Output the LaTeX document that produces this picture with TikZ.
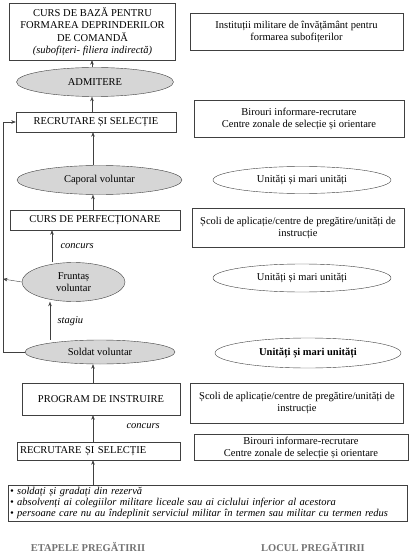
\documentclass[tikz,border=0pt]{standalone}
\usepackage{fontspec}
\setmainfont{Liberation Serif}
\usetikzlibrary{arrows.meta, shapes.geometric, positioning}

\tikzset{
  stage/.style={draw=black!75, fill=white, align=center, inner sep=1pt, font=\fontsize{10.5}{12}\selectfont},
  grade/.style={ellipse, draw=black!75, fill=black!16, align=center, inner sep=0pt, font=\fontsize{10.5}{12}\selectfont},
  place/.style={ellipse, draw=black!75, fill=white, align=center, inner sep=0pt, font=\fontsize{10.5}{12}\selectfont},
  link/.style={draw=black!75, -{Stealth[length=4.5pt,width=3.5pt]}},
  note/.style={font=\fontsize{10.5}{12}\selectfont\itshape},
  heading/.style={font=\fontsize{10.5}{12}\selectfont\bfseries, text=black!55}
}

\begin{document}
\begin{tikzpicture}[x=1pt, y=-1pt, >=stealth]
    \useasboundingbox (0,0) rectangle (412,556);

    % Etapele pregatirii
    \node[stage, minimum width=166pt, minimum height=57pt, font=\fontsize{10.5}{12.5}\selectfont] (base) at (92.5,31.5)
        {CURS DE BAZĂ PENTRU\\FORMAREA DEPRINDERILOR\\DE COMANDĂ\\\textit{(subofițeri- filiera indirectă)}};
    \node[grade, minimum width=157pt, minimum height=29pt] (admitere) at (95,82) {ADMITERE};
    \node[stage, minimum width=160pt, minimum height=20pt] (rec1) at (96,122) {RECRUTARE ȘI SELECȚIE};
    \node[grade, minimum width=165pt, minimum height=29pt] (caporal) at (99.5,180) {Caporal voluntar};
    \node[stage, minimum width=170pt, minimum height=20pt] (perf) at (95,220) {CURS DE PERFECȚIONARE};
    \node[grade, minimum width=103pt, minimum height=39pt] (fruntas) at (73.5,282) {Fruntaș\\voluntar};
    \node[grade, minimum width=150pt, minimum height=24pt] (soldat) at (100,352) {Soldat voluntar};
    \node[stage, minimum width=158pt, minimum height=32pt] (program) at (101,399) {PROGRAM DE INSTRUIRE};
    \node[stage, text width=157pt, inner sep=3pt, minimum height=18pt, align=left] (rec2) at (98.5,451) {RECRUTARE ȘI SELECȚIE};
    \node[stage, text width=395pt, minimum height=34pt, align=left, inner sep=2pt,
          font=\fontsize{10.5}{11.3}\selectfont\itshape] (surse) at (207.5,503)
        {\textbullet\ soldați și gradați din rezervă\\
         \textbullet\ absolvenți ai colegiilor militare liceale sau ai ciclului inferior al acestora\\
         \textbullet\ persoane care nu au îndeplinit serviciul militar în termen sau militar cu termen redus};

    % Locul pregatirii
    \node[stage, minimum width=213pt, minimum height=37pt] (inst) at (296.5,31.5)
        {Instituții militare de învățământ pentru\\formarea subofițerilor};
    \node[stage, minimum width=210pt, minimum height=37pt] (bir1) at (299,119)
        {Birouri informare-recrutare\\Centre zonale de selecție și orientare};
    \node[place, minimum width=178pt, minimum height=27pt] (unit1) at (302,180) {Unități și mari unități};
    \node[stage, minimum width=212pt, minimum height=39pt] (scoli1) at (298,227.5)
        {Școli de aplicație/centre de pregătire/unități de\\instrucție};
    \node[place, minimum width=178pt, minimum height=28pt] (unit2) at (302,278) {Unități și mari unități};
    \node[place, minimum width=186pt, minimum height=30pt, font=\fontsize{10.5}{12}\selectfont\bfseries] (unit3) at (308,353)
        {Unități și mari unități};
    \node[stage, minimum width=213pt, minimum height=40pt] (scoli2) at (297,403)
        {Școli de aplicație/centre de pregătire/unități de\\instrucție};
    \node[stage, minimum width=214pt, minimum height=26pt] (bir2) at (301,447.5)
        {Birouri informare-recrutare\\Centre zonale de selecție și orientare};

    % Titluri
    \node[heading] (etape) at (88,547) {ETAPELE PREGĂTIRII};
    \node[heading] (locul) at (313,547) {LOCUL PREGĂTIRII};

    % Sageti
    \draw[link] (surse.north -| 93,0) -- (rec2.south -| 93,0);
    \draw[link] (rec2.north -| 93,0) -- node[note, right=30pt, pos=0.6] (c2) {concurs} (program.south -| 93,0);
    \draw[link] (program.north -| 93,0) -- (soldat.south -| 93,0);
    \draw[link] (soldat.north -| 50,0) -- node[note, right=4pt] (stagiu) {stagiu} (fruntas.south -| 50,0);
    \draw[link] (fruntas.north -| 52,0) -- node[note, right=5pt] (c1) {concurs} (perf.south -| 52,0);
    \draw[link] (perf.north -| 93,0) -- (caporal.south -| 93,0);
    \draw[link] (caporal.north -| 93,0) -- (rec1.south -| 93,0);
    \draw[link] (rec1.north -| 92,0) -- (admitere.south -| 92,0);
    \draw[link] (admitere.north -| 92,0) -- (base.south -| 92,0);

    % Bucla de revenire
    \coordinate (jos) at (3,352);
    \coordinate (sus) at (3,122);
    \coordinate (mijloc) at (3,279);
    \draw[link] (soldat.west) -- (jos) -- (sus) -- (rec1.west);
    \draw[link] (fruntas.west) -- (mijloc);
\end{tikzpicture}
\end{document}
